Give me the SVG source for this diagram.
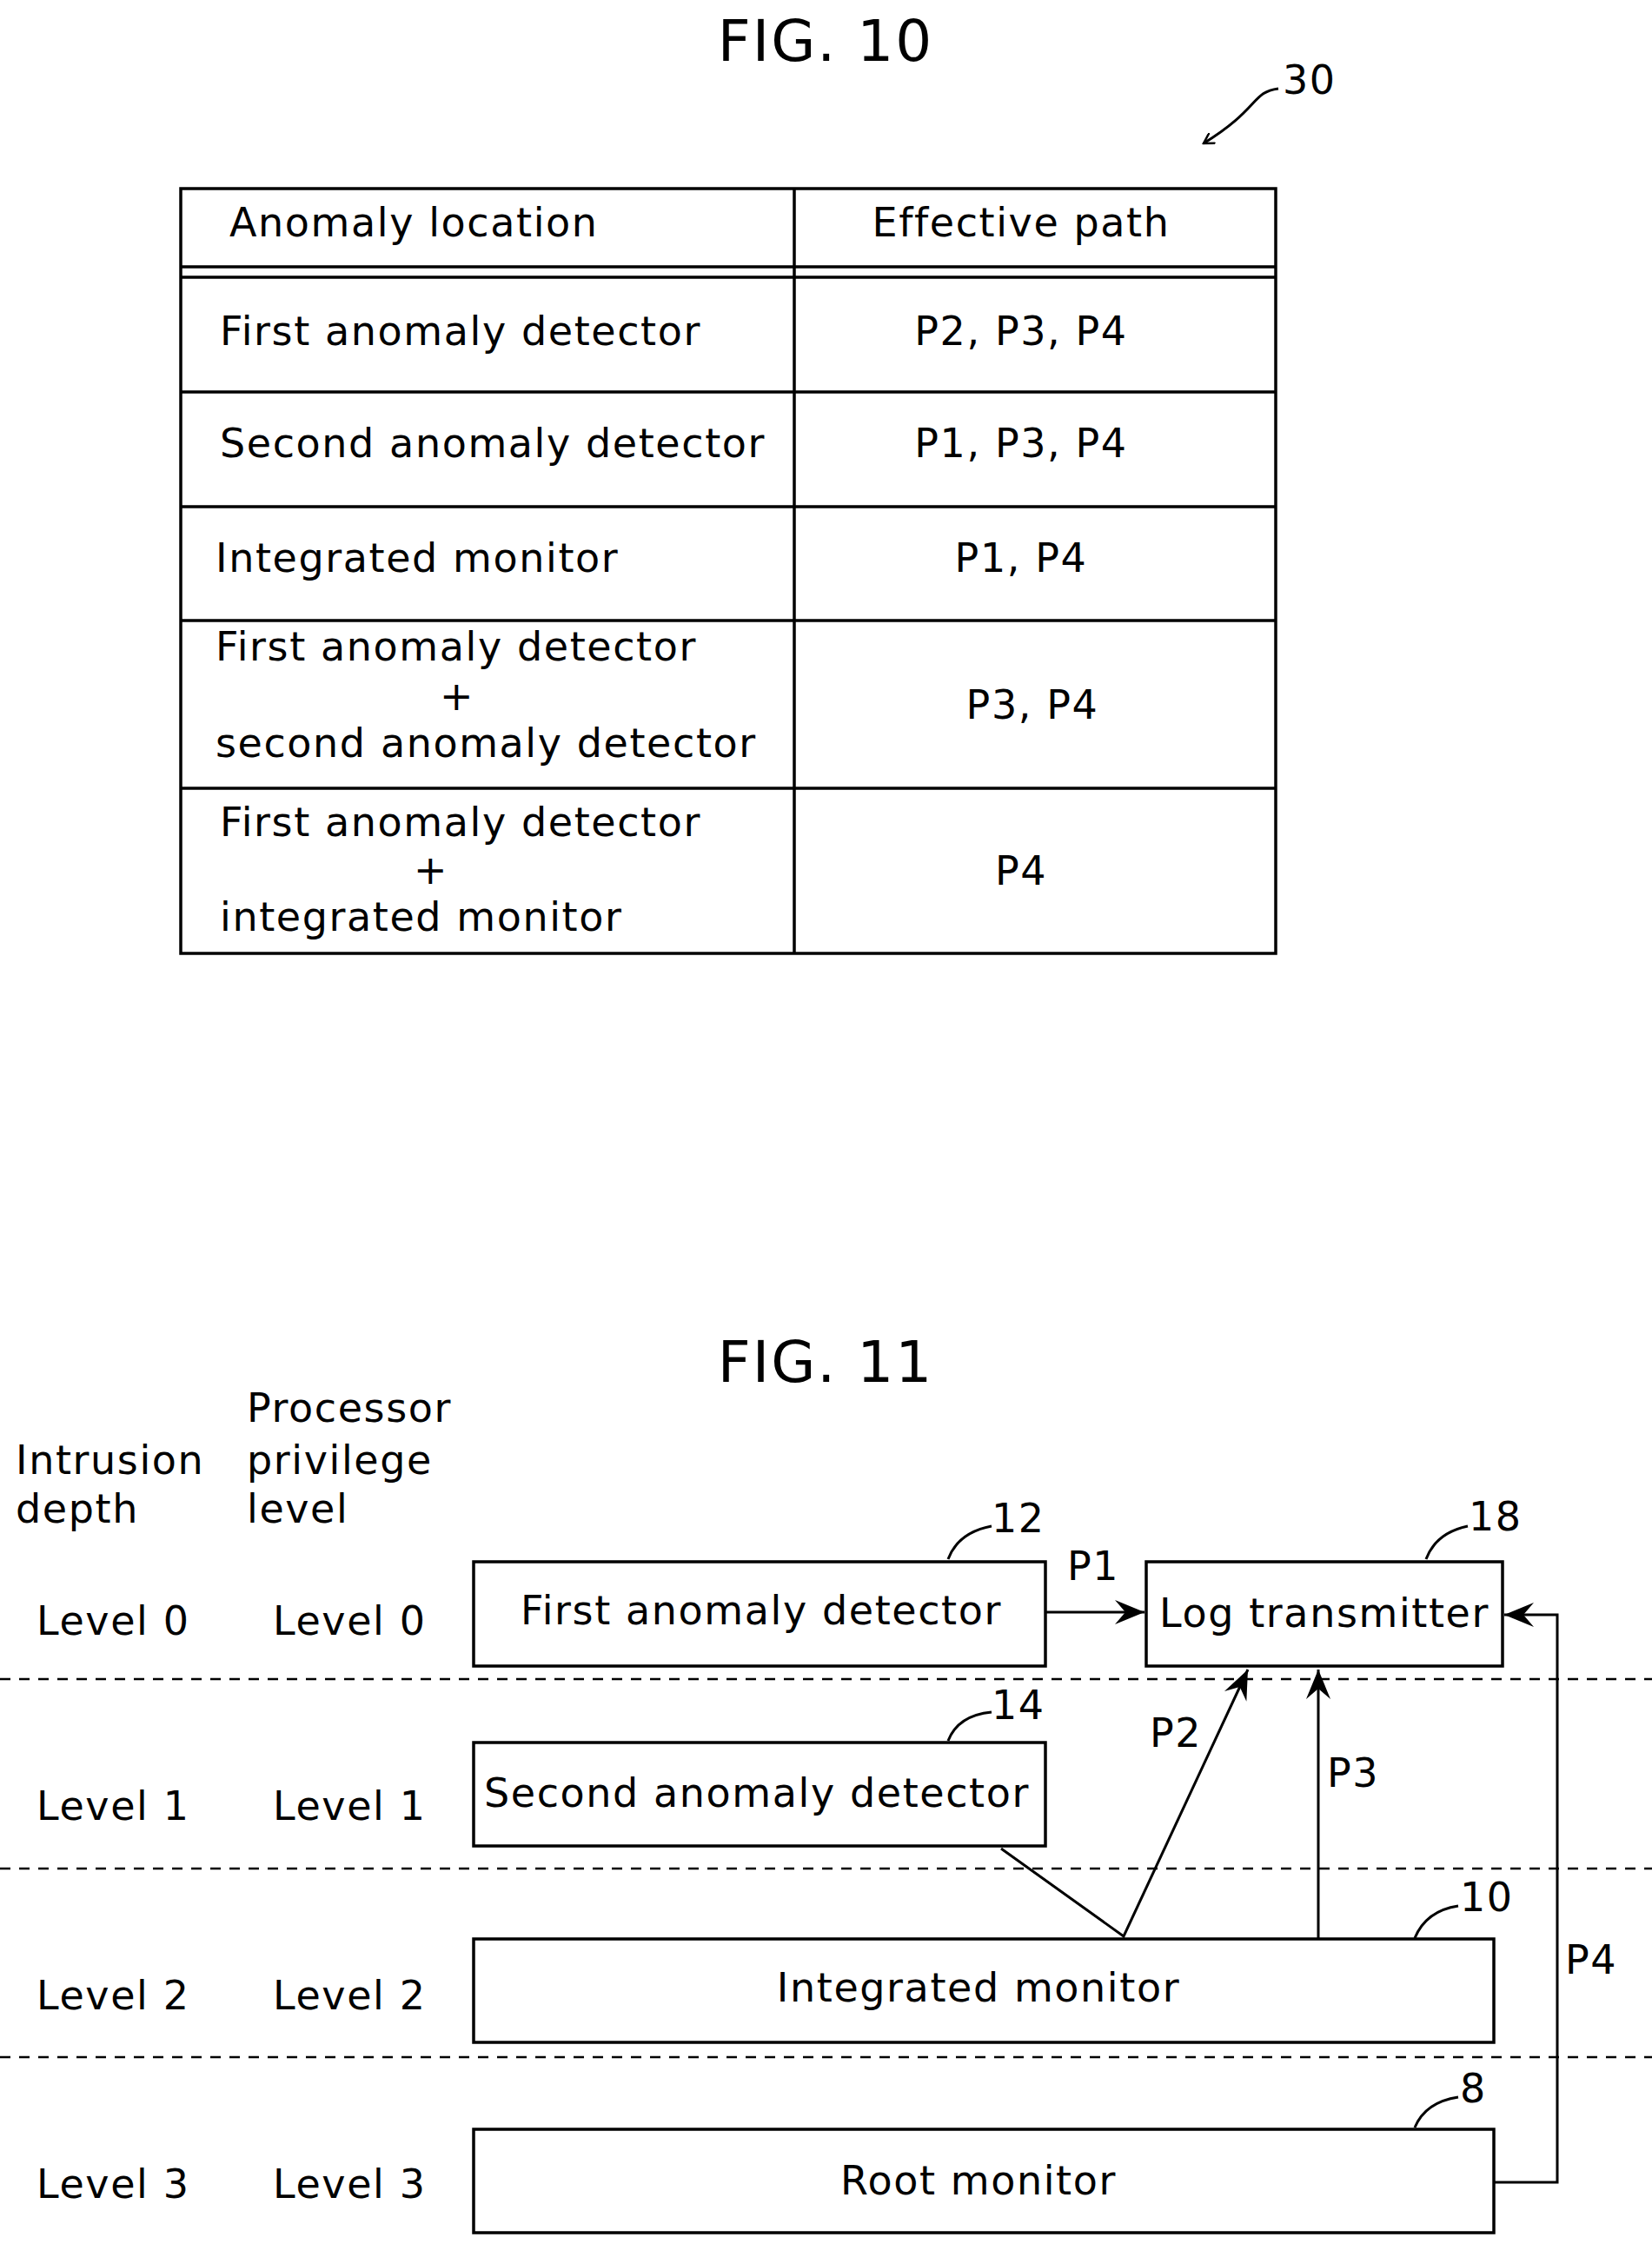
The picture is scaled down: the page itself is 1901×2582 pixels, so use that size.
<svg xmlns="http://www.w3.org/2000/svg" width="1901" height="2582" viewBox="0 0 1901 2582">
<style>
text{font-family:"DejaVu Sans",sans-serif;font-size:46px;letter-spacing:1.6px;fill:#000}
.c{text-anchor:middle}
.t{font-size:66px;letter-spacing:2px}
.b{fill:none;stroke:#000;stroke-width:3.5}
.l{fill:none;stroke:#000;stroke-width:3}
.d{stroke:#000;stroke-width:2.5;stroke-dasharray:12 10}
</style>
<defs>
<marker id="a" markerWidth="14" markerHeight="14" refX="12" refY="7" orient="auto" markerUnits="userSpaceOnUse" viewBox="0 0 14 14">
<polyline points="0,0 12,7 0,14" fill="none" stroke="#000" stroke-width="2.5"/>
</marker>
<marker id="a2" markerWidth="44" markerHeight="44" refX="38" refY="22" orient="auto" markerUnits="userSpaceOnUse" viewBox="0 0 44 44">
<path d="M4,8 L38,22 L4,36 L16,22 Z" fill="#000"/>
</marker>
</defs>
<g id="fig10">
<text class="c t" x="950" y="70">FIG. 10</text>
<text x="1476" y="108">30</text>
<path class="l" d="M1471,102 C1440,106 1450,125 1385,165" stroke-width="2" marker-end="url(#a)"/>
<g id="table" class="b">
<rect x="208" y="217" width="1260" height="880"/>
<line x1="914" y1="217" x2="914" y2="1097"/>
<line x1="208" y1="307" x2="1468" y2="307"/>
<line x1="208" y1="319" x2="1468" y2="319"/>
<line x1="208" y1="451" x2="1468" y2="451"/>
<line x1="208" y1="583" x2="1468" y2="583"/>
<line x1="208" y1="714" x2="1468" y2="714"/>
<line x1="208" y1="907" x2="1468" y2="907"/>
</g>
<text x="264" y="272">Anomaly location</text>
<text class="c" x="1175" y="272">Effective path</text>
<text x="253" y="397">First anomaly detector</text>
<text class="c" x="1175" y="397">P2, P3, P4</text>
<text x="253" y="526">Second anomaly detector</text>
<text class="c" x="1175" y="526">P1, P3, P4</text>
<text x="248" y="658">Integrated monitor</text>
<text class="c" x="1175" y="658">P1, P4</text>
<text x="248" y="760">First anomaly detector</text>
<text class="c" x="526" y="817">+</text>
<text x="248" y="871">second anomaly detector</text>
<text class="c" x="1188" y="827">P3, P4</text>
<text x="253" y="962">First anomaly detector</text>
<text class="c" x="496" y="1017">+</text>
<text x="253" y="1071">integrated monitor</text>
<text class="c" x="1175" y="1018">P4</text>
</g>
<g id="fig11">
<text class="c t" x="950" y="1590">FIG. 11</text>
<text x="18" y="1696">Intrusion</text>
<text x="18" y="1752">depth</text>
<text x="284" y="1636">Processor</text>
<text x="284" y="1696">privilege</text>
<text x="284" y="1752">level</text>
<text x="42" y="1881">Level 0</text><text x="314" y="1881">Level 0</text>
<text x="42" y="2094">Level 1</text><text x="314" y="2094">Level 1</text>
<text x="42" y="2312">Level 2</text><text x="314" y="2312">Level 2</text>
<text x="42" y="2529">Level 3</text><text x="314" y="2529">Level 3</text>
<line class="d" x1="0" y1="1932" x2="1901" y2="1932"/>
<line class="d" x1="0" y1="2150" x2="1901" y2="2150"/>
<line class="d" x1="0" y1="2367" x2="1901" y2="2367"/>
</g>
<g id="n12"><rect class="b" x="545" y="1797" width="658" height="120"/><text class="c" x="876" y="1869">First anomaly detector</text><text x="1141" y="1763">12</text><path class="l" stroke-width="2" d="M1091,1794 C1100,1770 1120,1760 1141,1756"/></g>
<g id="n18"><rect class="b" x="1319" y="1797" width="410" height="120"/><text class="c" x="1524" y="1872">Log transmitter</text><text x="1690" y="1761">18</text><path class="l" stroke-width="2" d="M1641,1794 C1650,1770 1670,1760 1689,1756"/></g>
<g id="n14"><rect class="b" x="545" y="2005" width="658" height="119"/><text class="c" x="871" y="2079">Second anomaly detector</text><text x="1141" y="1978">14</text><path class="l" stroke-width="2" d="M1091,2003 C1100,1980 1120,1972 1141,1970"/></g>
<g id="n10"><rect class="b" x="545" y="2231" width="1174" height="119"/><text class="c" x="1126" y="2303">Integrated monitor</text><text x="1680" y="2199">10</text><path class="l" stroke-width="2" d="M1628,2230 C1638,2206 1658,2196 1678,2193"/></g>
<g id="n8"><rect class="b" x="545" y="2450" width="1174" height="119"/><text class="c" x="1126" y="2525">Root monitor</text><text x="1680" y="2419">8</text><path class="l" stroke-width="2" d="M1628,2448 C1638,2424 1658,2416 1678,2413"/></g>
<g id="connectors">
<line class="l" x1="1203" y1="1855" x2="1317" y2="1855" marker-end="url(#a2)"/>
<text class="c" x="1258" y="1818">P1</text>
<polyline class="l" stroke-width="5" points="1152,2127 1293,2228 1436,1921" marker-end="url(#a2)"/>
<text class="c" x="1353" y="2010">P2</text>
<line class="l" x1="1517" y1="2231" x2="1517" y2="1921" marker-end="url(#a2)"/>
<text class="c" x="1557" y="2056">P3</text>
<polyline class="l" points="1719,2511 1792,2511 1792,1858 1731,1858" marker-end="url(#a2)"/>
<text class="c" x="1831" y="2271">P4</text>
</g>
</svg>
